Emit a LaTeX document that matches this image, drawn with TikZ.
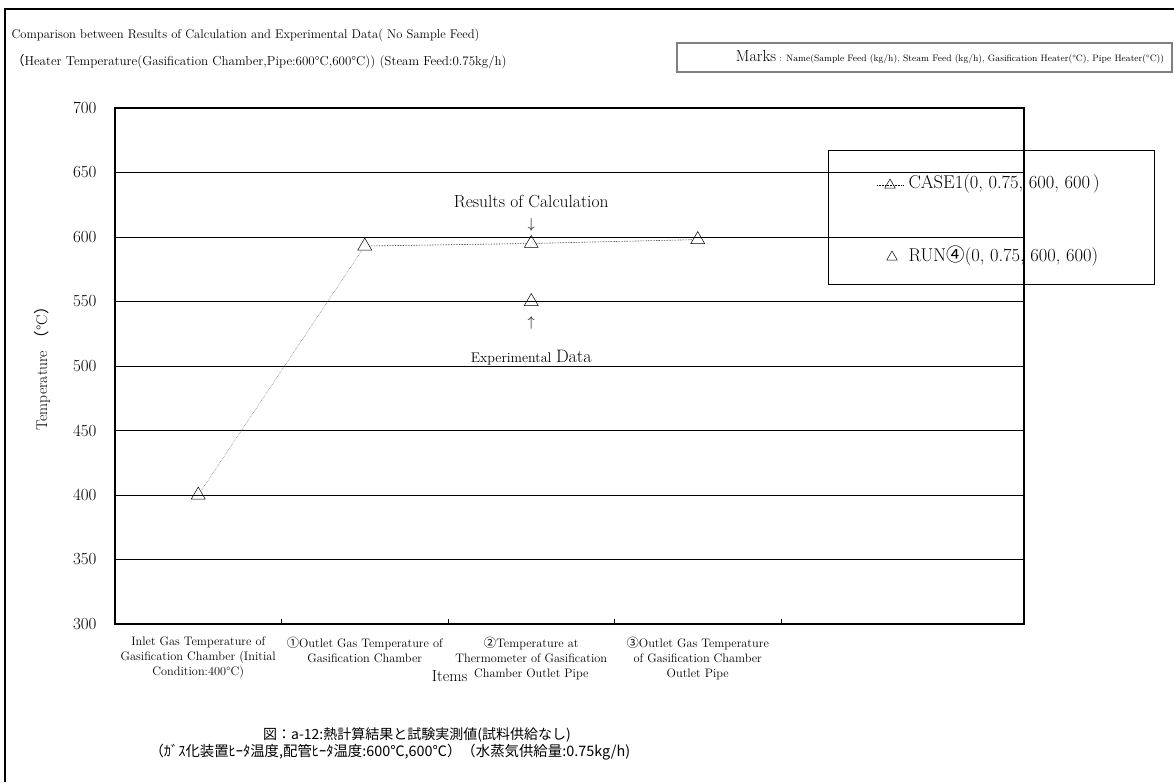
\documentclass[tikz,border=0pt]{standalone}
\usepackage{fontspec}
\newfontfamily\cjk{Noto Sans CJK JP}
\usetikzlibrary{shapes.geometric, positioning}
\newcommand{\degC}{°C}
\newcommand{\fsz}[1]{\fontsize{#1}{1.22\dimexpr#1pt\relax}\selectfont}

\tikzset{
  tri/.style={draw, regular polygon, regular polygon sides=3, inner sep=0pt, minimum size=16pt, line width=0.5pt},
  legtri/.style={tri, minimum size=12pt},
  gridline/.style={line width=0.8pt},
  calcline/.style={line width=0.6pt, densely dotted},
  ylabel/.style={anchor=east, font=\fsz{17}},
  catlabel/.style={align=center, anchor=north, inner sep=0pt, font=\fsz{12.3}}
}

\begin{document}
\begin{tikzpicture}[x=1pt, y=-1pt]
	\useasboundingbox (0,0) rectangle (1174,782);
	\draw[line width=1.6pt] (5,782) -- (5,9) -- (1174,9);

	\node[anchor=west, font=\fsz{12.6}] (title) at (8,35) {Comparison between Results of Calculation and Experimental Data( No Sample Feed)};
	\node[anchor=west, font=\fsz{13}] (subtitle) at (8,62) {{\cjk （}Heater Temperature(Gasification Chamber,Pipe:600\degC,600\degC)) (Steam Feed:0.75kg/h)};

	\draw[gray, line width=1.5pt] (677,43) rectangle (1172,72);
	\node[font=\fsz{9.3}] (marks) at (950,57.5) {{\fsz{16}Marks} : Name(Sample Feed (kg/h), Steam Feed (kg/h), Gasification Heater(\degC), Pipe Heater(\degC))};

	\begin{scope}[shift={(115,624)}, x=166.5pt, y=1.29pt]
	\draw[gridline] (0,50) -- (5.46,50);
	\draw[gridline] (0,100) -- (5.46,100);
	\draw[gridline] (0,150) -- (5.46,150);
	\draw[gridline] (0,200) -- (5.46,200);
	\draw[gridline] (0,250) -- (5.46,250);
	\draw[gridline] (0,300) -- (5.46,300);
	\draw[gridline] (0,350) -- (5.46,350);
	\draw[line width=1.3pt] (0,0) rectangle (5.46,400);
	\draw (1,0) -- (1,4);
	\draw (2,0) -- (2,4);
	\draw (3,0) -- (3,4);
	\draw (4,0) -- (4,4);

	\node[ylabel] (y300) at (-0.09,0) {300};
	\node[ylabel] (y350) at (-0.09,50) {350};
	\node[ylabel] (y400) at (-0.09,100) {400};
	\node[ylabel] (y450) at (-0.09,150) {450};
	\node[ylabel] (y500) at (-0.09,200) {500};
	\node[ylabel] (y550) at (-0.09,250) {550};
	\node[ylabel] (y600) at (-0.09,300) {600};
	\node[ylabel] (y650) at (-0.09,350) {650};
	\node[ylabel] (y700) at (-0.09,400) {700};

	\node[tri] (calc1) at (0.5,100) {};
	\node[tri] (calc2) at (1.5,293) {};
	\node[tri] (calc3) at (2.5,295) {};
	\node[tri] (calc4) at (3.5,298) {};
	\node[tri] (run3) at (2.5,250) {};
	\draw[calcline, gray] (calc1) -- (calc2);
	\draw[calcline] (calc2) -- (calc3) -- (calc4);

	\node[catlabel] (cat1) at (0.5,-10) {Inlet Gas Temperature of\\Gasification Chamber (Initial\\Condition:400\degC)};
	\node[catlabel] (cat2) at (1.5,-10) {{\cjk ①}Outlet Gas Temperature of\\Gasification Chamber};
	\node[catlabel] (cat3) at (2.5,-10) {{\cjk ②}Temperature at\\Thermometer of Gasification\\Chamber Outlet Pipe};
	\node[catlabel] (cat4) at (3.5,-10) {{\cjk ③}Outlet Gas Temperature\\of Gasification Chamber\\Outlet Pipe};
	\node[font=\fsz{16}] (items) at (2.01,-40.3) {Items};
	\end{scope}

	\node[above=3pt of calc3, inner sep=0pt, font=\fsz{15}] (downarrow) {$\downarrow$};
	\node[above=11pt of downarrow, inner sep=0pt, font=\fsz{17.5}] (calclabel) {Results of Calculation};
	\node[below=11pt of run3, inner sep=0pt, font=\fsz{15}] (uparrow) {$\uparrow$};
	\node[below=33pt of uparrow, inner sep=0pt, font=\fsz{14}, anchor=base] (explabel) {Experimental {\fsz{18}Data}};

	\node[rotate=90, font=\fsz{15.5}] (ytitle) at (42,365) {Temperature\ {\cjk （}°C{\cjk ）}};

	\draw[line width=0.8pt] (828,150) rectangle (1154,284);
	\node[legtri] (legcalc) at (890,185) {};
	\draw[calcline] ([xshift=-13pt]legcalc.center) -- ([xshift=13pt]legcalc.center);
	\node[anchor=west, font=\fsz{18.5}] (legcalctext) at (905,184) {CASE1(0, 0.75, 600, 600\hspace{3pt})};
	\node[legtri] (legrun) at (892,257) {};
	\node[anchor=west, font=\fsz{18.5}] (legruntext) at (905,256) {RUN{\cjk ④}(0, 0.75, 600, 600)};

	\node[font=\cjk\fsz{14}] (caption1) at (417,735) {図：a-12:熱計算結果と試験実測値(試料供給なし)};
	\node[anchor=west, font=\cjk\fsz{14.4}] (caption2) at (146,752) {（ｶﾞｽ化装置ﾋｰﾀ温度,配管ﾋｰﾀ温度:600℃,600℃）（水蒸気供給量:0.75kg/h)};
\end{tikzpicture}
\end{document}
